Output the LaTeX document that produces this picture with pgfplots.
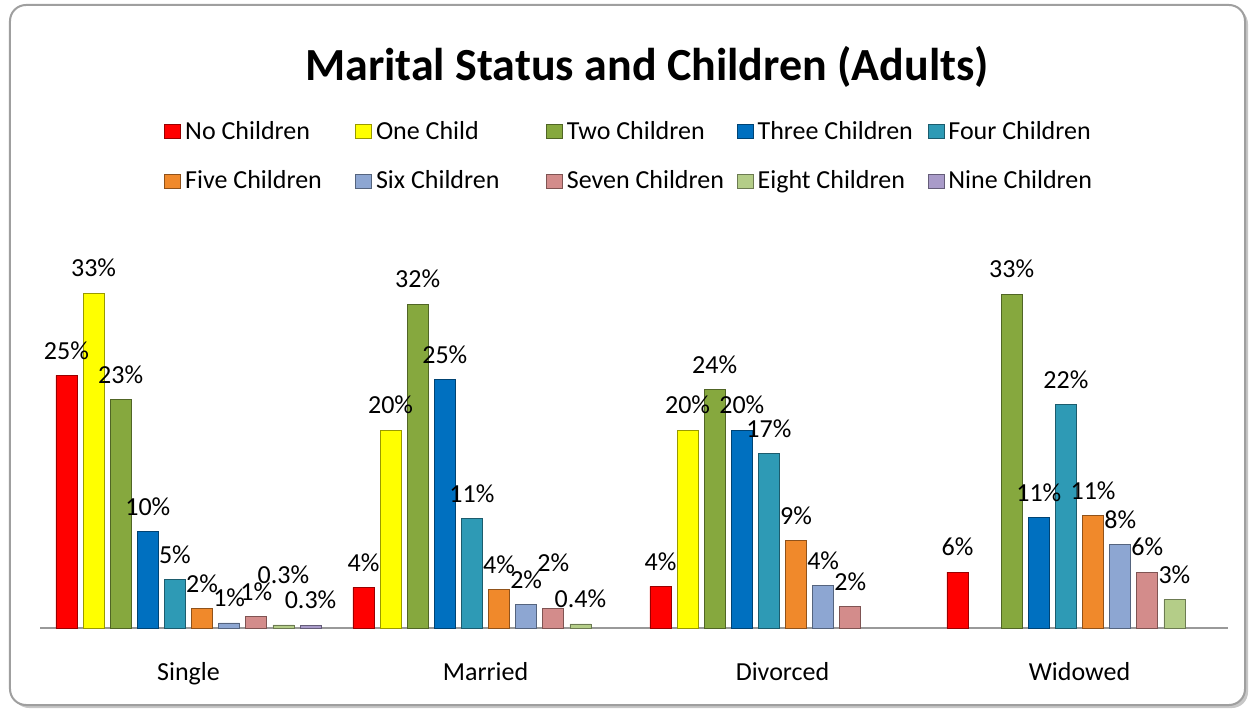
\documentclass[border=0pt]{standalone}
\usepackage{fontspec}
\setmainfont{Carlito}
\usepackage{pgfplots}
\pgfplotsset{compat=1.18}

\definecolor{cNone}{HTML}{FF0000}
\definecolor{cOne}{HTML}{FFFF00}
\definecolor{cTwo}{HTML}{86A83E}
\definecolor{cThree}{HTML}{0070C0}
\definecolor{cFour}{HTML}{2E9AB5}
\definecolor{cFive}{HTML}{F0892B}
\definecolor{cSix}{HTML}{8DA6D2}
\definecolor{cSeven}{HTML}{D38C8B}
\definecolor{cEight}{HTML}{B4CD88}
\definecolor{cNine}{HTML}{A99BC9}

\pgfplotsset{bev/.style={fill=#1, draw=#1!60!black, line width=0.4pt}}
\newcommand{\lab}{\fontsize{13}{15.5}\selectfont}

\begin{document}
\begin{tikzpicture}
% page size and frame (1px = 0.5pt, origin at the axis' lower left)
\path (-20pt,-42pt) rectangle (605.5pt,314pt);
\fill[black!22, rounded corners=8pt] (-13.5pt,-40pt) rectangle (604pt,310pt);
\filldraw[fill=white, draw=gray!75, line width=1pt, rounded corners=8pt]
  (-15pt,-38.5pt) rectangle (602.5pt,311.5pt);

\begin{axis}[
    ybar=3.06pt,
    bar width=10.5pt,
    x=148.5pt, y=5.075pt,
    xmin=-0.5, xmax=3.5, ymin=0, ymax=35,
    enlargelimits=false,
    clip=false,
    axis x line*=bottom,
    axis y line=none,
    x axis line style={draw=gray!80, line width=0.8pt},
    xtick={0,1,2,3},
    xticklabels={Single,Married,Divorced,Widowed},
    major tick length=0pt,
    ytick=\empty,
    xticklabel style={font=\lab, anchor=base, yshift=-26pt},
    point meta=explicit,
    visualization depends on={\thisrow{dy} \as \dy},
    nodes near coords={\pgfmathprintnumber{\pgfplotspointmeta}\%},
    every node near coord/.append style={font=\lab, anchor=center, yshift=\dy pt},
    /pgf/number format/assume math mode=true,
    legend columns=5,
    legend style={draw=none, fill=none, font=\lab, at={(0.1044,1.4386)},
      anchor=north west, row sep=10pt, column sep=0pt, inner sep=0pt,
      cells={anchor=west}},
    legend image code/.code={\path[#1] (0pt,-3.5pt) rectangle (8pt,3.5pt);},
]
\addplot[bev=cNone] table[x=x,y=y,meta=lab,row sep=\\]
  {x y lab dy\\ 0 24.9 25 12.5\\ 1 4.0 4 12.5\\ 2 4.1 4 12.5\\ 3 5.5 6 12.5\\};
\addlegendentry{\makebox[83pt][l]{No Children}}
\addplot[bev=cOne] table[x=x,y=y,meta=lab,row sep=\\]
  {x y lab dy\\ 0 33.0 33 12.5\\ 1 19.5 20 12.5\\ 2 19.5 20 12.5\\};
\addlegendentry{\makebox[83pt][l]{One Child}}
\addplot[bev=cTwo] table[x=x,y=y,meta=lab,row sep=\\]
  {x y lab dy\\ 0 22.5 23 12.5\\ 1 31.9 32 12.5\\ 2 23.5 24 12.5\\ 3 32.9 33 12.5\\};
\addlegendentry{\makebox[83pt][l]{Two Children}}
\addplot[bev=cThree] table[x=x,y=y,meta=lab,row sep=\\]
  {x y lab dy\\ 0 9.5 10 12.5\\ 1 24.5 25 12.5\\ 2 19.5 20 12.5\\ 3 10.9 11 12.5\\};
\addlegendentry{\makebox[83pt][l]{Three Children}}
\addplot[bev=cFour] table[x=x,y=y,meta=lab,row sep=\\]
  {x y lab dy\\ 0 4.8 5 12.5\\ 1 10.8 11 12.5\\ 2 17.2 17 12.5\\ 3 22.0 22 12.5\\};
\addlegendentry{\makebox[83pt][l]{Four Children}}
\addplot[bev=cFive] table[x=x,y=y,meta=lab,row sep=\\]
  {x y lab dy\\ 0 1.9 2 12.5\\ 1 3.8 4 12.5\\ 2 8.6 9 12.5\\ 3 11.1 11 12.5\\};
\addlegendentry{\makebox[83pt][l]{Five Children}}
\addplot[bev=cSix] table[x=x,y=y,meta=lab,row sep=\\]
  {x y lab dy\\ 0 0.5 1 12.5\\ 1 2.3 2 12.5\\ 2 4.2 4 12.5\\ 3 8.2 8 12.5\\};
\addlegendentry{\makebox[83pt][l]{Six Children}}
\addplot[bev=cSeven] table[x=x,y=y,meta=lab,row sep=\\]
  {x y lab dy\\ 0 1.1 1 12.5\\ 1 1.9 2 23\\ 2 2.1 2 12.5\\ 3 5.5 6 12.5\\};
\addlegendentry{\makebox[83pt][l]{Seven Children}}
\addplot[bev=cEight] table[x=x,y=y,meta=lab,row sep=\\]
  {x y lab dy\\ 0 0.3 0.3 25\\ 1 0.4 0.4 12.5\\ 3 2.8 3 12.5\\};
\addlegendentry{\makebox[83pt][l]{Eight Children}}
\addplot[bev=cNine] table[x=x,y=y,meta=lab,row sep=\\]
  {x y lab dy\\ 0 0.3 0.3 12.5\\};
\addlegendentry{\makebox[83pt][l]{Nine Children}}
\end{axis}

\node[font=\bfseries\fontsize{23}{27}\selectfont] at (303.5pt,280.5pt)
  {Marital Status and Children (Adults)};
\end{tikzpicture}
\end{document}
